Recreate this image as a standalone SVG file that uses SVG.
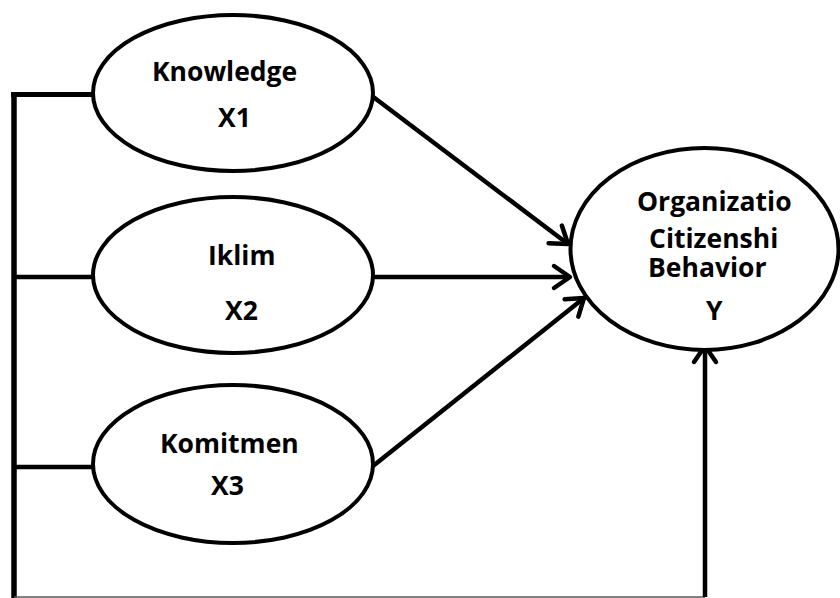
<svg xmlns="http://www.w3.org/2000/svg" width="840" height="598" viewBox="0 0 840 598">
<style>
.node ellipse{fill:#fff;stroke:#000;stroke-width:4}
.node text{font-family:"Open Sans","Liberation Sans",sans-serif;font-weight:bold;font-size:26.5px;fill:#000}
.conn{stroke:#000;stroke-width:4.5;fill:none}
</style>
<defs>
<marker id="arr" markerUnits="userSpaceOnUse" viewBox="-20 -15 24 30" markerWidth="24" markerHeight="30" refX="0" refY="0" orient="auto">
<path d="M-16,-11 L0,0 L-16,11" fill="none" stroke="#000" stroke-width="4.5" stroke-linecap="round" stroke-linejoin="round"/>
</marker>
</defs>
<g id="connectors">
<line x1="14" y1="92" x2="14" y2="598" class="conn" style="stroke-width:5.5"/>
<line x1="11" y1="94.5" x2="95" y2="94.5" class="conn" style="stroke-width:5"/>
<line x1="14" y1="277" x2="95" y2="277" class="conn"/>
<line x1="14" y1="467" x2="95" y2="467" class="conn"/>
<line x1="14" y1="597" x2="705" y2="597" stroke="#595959" stroke-width="1.5"/>
<line x1="372" y1="96" x2="568" y2="244" class="conn" marker-end="url(#arr)"/>
<line x1="373" y1="277" x2="570" y2="277" class="conn" marker-end="url(#arr)"/>
<line x1="373" y1="466" x2="584" y2="298" class="conn" marker-end="url(#arr)"/>
<line x1="705" y1="597" x2="705" y2="346" class="conn" marker-end="url(#arr)"/>
</g>
<g id="knowledge" class="node">
<ellipse cx="233" cy="93" rx="140" ry="78"/>
<text x="152" y="81">Knowledge</text>
<text x="218" y="127">X1</text>
</g>
<g id="iklim" class="node">
<ellipse cx="233" cy="275" rx="140" ry="78"/>
<text x="208" y="265">Iklim</text>
<text x="225" y="320">X2</text>
</g>
<g id="komitmen" class="node">
<ellipse cx="233" cy="464" rx="140" ry="79"/>
<text x="160" y="453">Komitmen</text>
<text x="211" y="495">X3</text>
</g>
<g id="ocb" class="node">
<ellipse cx="704.5" cy="249" rx="134" ry="101"/>
<text x="637" y="211">Organizatio</text>
<text x="649" y="248">Citizenshi</text>
<text x="648" y="277">Behavior</text>
<text x="706" y="320">Y</text>
</g>
</svg>
